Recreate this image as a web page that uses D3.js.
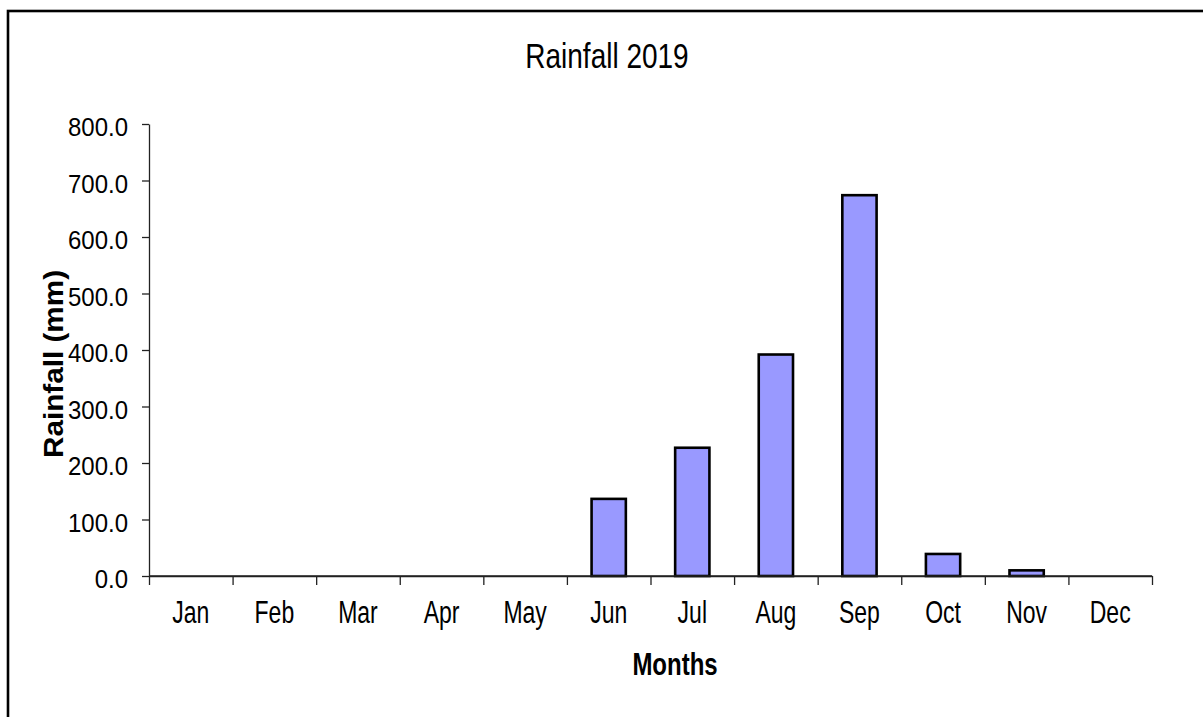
<!DOCTYPE html>
<html>
<head>
<meta charset="utf-8">
<script src="https://cdn.jsdelivr.net/npm/d3@7"></script>
<style>
  html, body { margin: 0; padding: 0; background: #fff; }
  svg { display: block; }
  text { font-family: "Liberation Sans", Arial, sans-serif; fill: #000; }
</style>
</head>
<body>
<svg id="chart" width="1203" height="717"></svg>
<script>
// values
const months = ['Jan', 'Feb', 'Mar', 'Apr', 'May', 'Jun', 'Jul', 'Aug', 'Sep', 'Oct', 'Nov', 'Dec'];
const rainfall = [0, 0, 0, 0, 0, 136.5, 227, 392, 674, 39, 10, 0];
const yTicks = [0, 100, 200, 300, 400, 500, 600, 700, 800];

const width = 1203, height = 717;
const margin = { top: 124, right: 51, bottom: 141, left: 149 };
const plotW = width - margin.left - margin.right;
const plotH = height - margin.top - margin.bottom;

const svg = d3.select('#chart');

// outer frame (only left and top edges are in view)
svg.append('rect')
  .attr('x', 8).attr('y', 11)
  .attr('width', 1300).attr('height', 800)
  .attr('fill', 'none')
  .attr('stroke', '#000')
  .attr('stroke-width', 2.6);

const g = svg.append('g')
  .attr('transform', `translate(${margin.left},${margin.top})`);

const x = d3.scaleBand()
  .domain(months)
  .range([0, plotW])
  .paddingInner(0.59)
  .paddingOuter(0.295);

// boundaries between categories, for the tick marks
const xEdge = d3.scaleLinear().domain([0, months.length]).range([0, plotW]);

const y = d3.scaleLinear().domain([0, 800]).range([plotH, 0]);

// y axis
const yAxis = g.append('g')
  .call(d3.axisLeft(y).tickValues(yTicks).tickSize(7).tickSizeOuter(0)
    .tickFormat(d3.format('.1f')));
yAxis.selectAll('path, line').attr('stroke', '#222').attr('stroke-width', 1.3);
yAxis.selectAll('text')
  .attr('x', -21)
  .attr('dy', null)
  .attr('y', 10.6)
  .attr('transform', 'scale(1,1.1)')
  .style('font-size', '24px')
  .style('font-family', '"Liberation Sans", Arial, sans-serif');

// x axis, ticks at the category boundaries
const xAxis = g.append('g')
  .attr('transform', `translate(0,${plotH})`)
  .call(d3.axisBottom(xEdge).ticks(months.length).tickSize(9).tickSizeOuter(0)
    .tickFormat(''));
xAxis.selectAll('path, line').attr('stroke', '#222').attr('stroke-width', 1.3);

// month labels at the band centres
g.append('g')
  .selectAll('text')
  .data(months)
  .join('text')
    .attr('transform', d => `translate(${x(d) + x.bandwidth() / 2},${plotH}) scale(1,1.33)`)
    .attr('y', 35.5)
    .attr('text-anchor', 'middle')
    .style('font-size', '23px')
    .text(d => d);

// bars
const data = months.map((m, i) => ({ month: m, value: rainfall[i] }))
  .filter(d => d.value > 0);

g.selectAll('rect.bar')
  .data(data)
  .join('rect')
    .attr('class', 'bar')
    .attr('x', d => x(d.month))
    .attr('y', d => y(d.value))
    .attr('width', x.bandwidth())
    .attr('height', d => plotH - y(d.value))
    .attr('fill', '#9999FF')
    .attr('stroke', '#000')
    .attr('stroke-width', 2.6);

// redraw the baseline over the bar bottoms
g.append('line')
  .attr('x1', 0).attr('x2', plotW)
  .attr('y1', plotH).attr('y2', plotH)
  .attr('stroke', '#222').attr('stroke-width', 1.3);

// title
svg.append('text')
  .attr('transform', 'translate(607,67.5) scale(1,1.22)')
  .attr('text-anchor', 'middle')
  .style('font-size', '28px')
  .text('Rainfall 2019');

// axis titles
svg.append('text')
  .attr('transform', 'translate(675,675) scale(1,1.28)')
  .attr('text-anchor', 'middle')
  .style('font-size', '24px')
  .style('font-weight', 'bold')
  .text('Months');

svg.append('text')
  .attr('transform', 'translate(63,364) rotate(-90) scale(1.1,1)')
  .attr('text-anchor', 'middle')
  .style('font-size', '27px')
  .style('font-weight', 'bold')
  .text('Rainfall (mm)');
</script>
</body>
</html>
